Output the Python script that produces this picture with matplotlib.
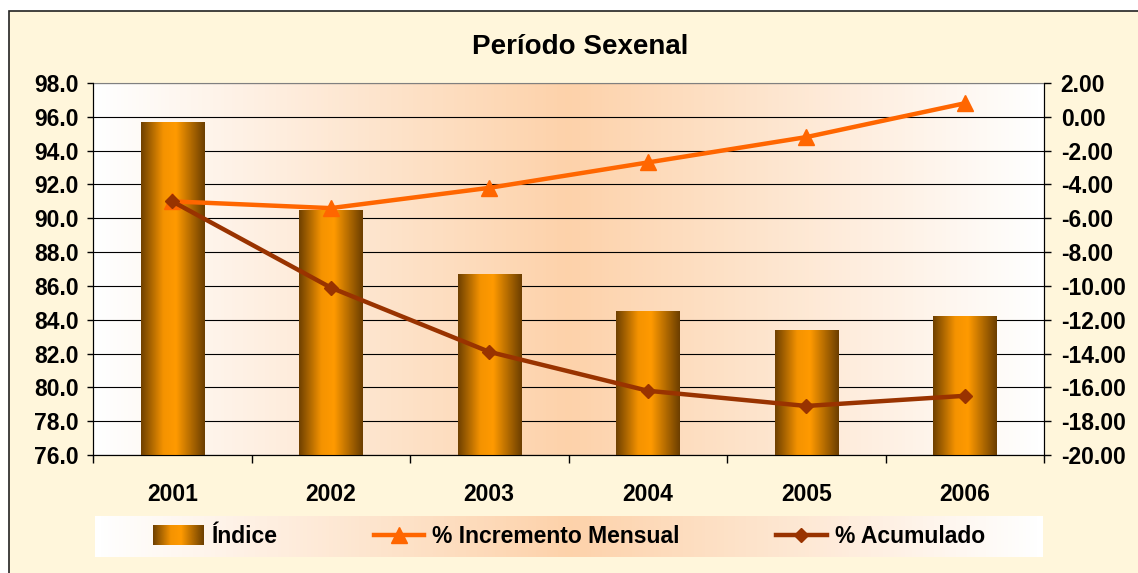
import numpy as np
import matplotlib
matplotlib.use("Agg")
import matplotlib.pyplot as plt
from matplotlib.colors import LinearSegmentedColormap
from matplotlib.patches import Rectangle
from matplotlib.lines import Line2D
from matplotlib.legend_handler import HandlerBase
from matplotlib.image import BboxImage
from matplotlib.transforms import Bbox, TransformedBbox

plt.rcParams['font.family'] = ['Liberation Sans', 'DejaVu Sans']
plt.rcParams['font.weight'] = 'bold'

years = ['2001', '2002', '2003', '2004', '2005', '2006']
indice = [95.7, 90.5, 86.7, 84.5, 83.4, 84.2]
incremento = [-5.0, -5.4, -4.2, -2.7, -1.2, 0.8]
acumulado = [-5.0, -10.1, -13.9, -16.2, -17.1, -16.5]
left_ticks = np.arange(76, 98.1, 2)
right_ticks = np.arange(-20, 2.1, 2)

bar_cmap = LinearSegmentedColormap.from_list(
    'bar', [(0, '#6E4000'), (0.35, '#F59300'), (0.55, '#FF9A00'), (1, '#6B3E00')])
bg_cmap = LinearSegmentedColormap.from_list(
    'bg', [(0, '#FFFFFF'), (0.5, '#FDD2AA'), (1, '#FFFFFF')])
grad = np.linspace(0, 1, 256).reshape(1, -1)

fs = 16.5

fig = plt.figure(figsize=(11.38, 5.73), dpi=100)
fig.patch.set_facecolor('white')
fig.patches.append(Rectangle((9 / 1138, -0.1), 1.2, 1.1 - 11 / 573,
                             transform=fig.transFigure, facecolor='#FFF6DB',
                             edgecolor='#222222', linewidth=1.2, zorder=-10))

ax = fig.add_axes([93 / 1138, 1 - 455 / 573, 951 / 1138, 372 / 573])
x = np.arange(len(years))
ax.set_xlim(-0.5, len(years) - 0.5)
ax.set_ylim(76, 98)
ax.imshow(grad, cmap=bg_cmap, aspect='auto', extent=(0, 1, 0, 1),
          transform=ax.transAxes, zorder=0, interpolation='bicubic')

bars = ax.bar(x, [v - 76 for v in indice], bottom=76, width=0.4,
              facecolor='none', edgecolor='none', zorder=3)
for b in bars:
    im = ax.imshow(grad, cmap=bar_cmap, aspect='auto',
                   extent=(b.get_x(), b.get_x() + b.get_width(), 76, b.get_y() + b.get_height()),
                   zorder=3, interpolation='bicubic')
    im.set_clip_path(b)

ax.set_yticks(left_ticks)
ax.set_yticklabels([f'{v:.1f}' for v in left_ticks])
ax.yaxis.grid(True, color='black', linewidth=0.8, zorder=1)
ax.set_axisbelow(True)
ax.set_xticks(x)
ax.set_xticklabels(years)
ax.set_xticks(np.arange(-0.5, len(years), 1), minor=True)
ax.tick_params(axis='x', which='major', length=0, pad=20, labelsize=fs)
ax.tick_params(axis='x', which='minor', length=6, width=1, direction='out')
ax.tick_params(axis='y', length=4, width=1, direction='out', labelsize=fs, pad=6)
ax.spines['top'].set_color('#808080')
for s in ['left', 'bottom', 'right']:
    ax.spines[s].set_color('black')

ax2 = ax.twinx()
ax2.set_ylim(-20, 2)
ax2.set_yticks(right_ticks)
ax2.set_yticklabels([f'{v:.2f}' for v in right_ticks])
ax2.tick_params(axis='y', length=5, width=1, direction='out', labelsize=fs, pad=7)
ax2.spines['top'].set_visible(False)
ax2.plot(x, incremento, color='#FF6600', linewidth=3.2, marker='^', markersize=11, zorder=5)
ax2.plot(x, acumulado, color='#993300', linewidth=3.2, marker='D', markersize=7, zorder=5)

fig.text(0.51, 1 - 47 / 573, 'Período Sexenal', ha='center', va='center',
         fontsize=20, fontweight='bold')

# legend
lax = fig.add_axes([95 / 1138, 1 - 557 / 573, 948 / 1138, 41 / 573])
lax.imshow(grad, cmap=bg_cmap, aspect='auto', extent=(0, 1, 0, 1),
           transform=lax.transAxes, interpolation='bicubic')
lax.set_axis_off()


class GradHandler(HandlerBase):
    def create_artists(self, legend, orig_handle, xdescent, ydescent, width, height, fontsize, trans):
        bb = Bbox.from_bounds(-xdescent, -ydescent - 0.1 * height, width, height * 1.2)
        img = BboxImage(TransformedBbox(bb, trans), cmap=bar_cmap, interpolation='bicubic')
        img.set_data(grad)
        return [img]


h_bar = Rectangle((0, 0), 1, 1)
h_inc = Line2D([], [], color='#FF6600', linewidth=3.2, marker='^', markersize=11)
h_acu = Line2D([], [], color='#993300', linewidth=3.2, marker='D', markersize=7)
lax.legend([h_bar, h_inc, h_acu], ['Índice', '% Incremento Mensual', '% Acumulado'],
           handler_map={Rectangle: GradHandler()}, loc='center', ncol=3,
           frameon=False, fontsize=fs, handlelength=2.2, handletextpad=0.35,
           columnspacing=4.2)

fig.savefig('out.png', dpi=100)
